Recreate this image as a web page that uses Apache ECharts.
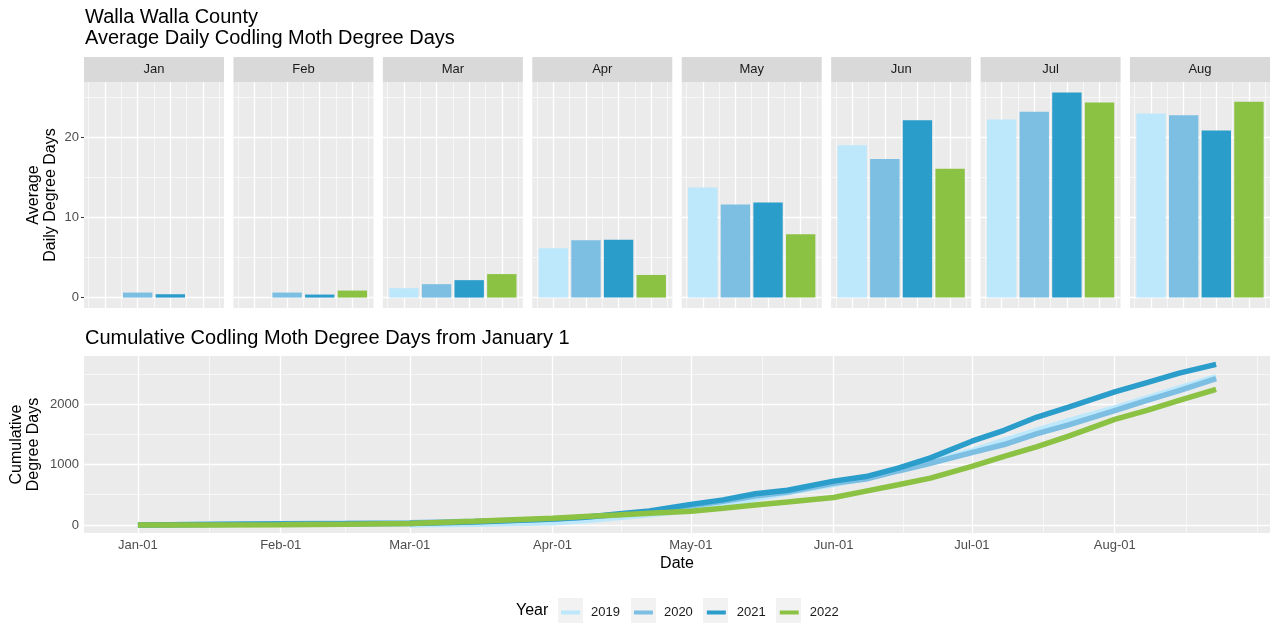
<!DOCTYPE html>
<html><head><meta charset="utf-8">
<script src="https://cdn.jsdelivr.net/npm/echarts@6.0.0/dist/echarts.min.js"></script>
<style>html,body{margin:0;padding:0;background:#fff}#c{width:1280px;height:640px}</style>
</head><body><div id="c"></div>
<script>
// ---------------- DATA ----------------
const months = ['Jan', 'Feb', 'Mar', 'Apr', 'May', 'Jun', 'Jul', 'Aug'];
const years = ['2019', '2020', '2021', '2022'];
const yearColors = ['#BDE8FB', '#7DBFE3', '#2A9DCB', '#8CC244'];

// Average daily degree days per month (Jan..Aug)
const avg2019 = [null, null, 1.18, 6.16, 13.77, 19.04, 22.26, 23.01];
const avg2020 = [0.63, 0.63, 1.68, 7.17, 11.63, 17.32, 23.22, 22.80];
const avg2021 = [0.42, 0.38, 2.18, 7.23, 11.88, 22.18, 25.65, 20.88];
const avg2022 = [null, 0.88, 2.94, 2.83, 7.91, 16.11, 24.39, 24.48];

// Cumulative degree days, sampled dates (MM-DD)
const sampleDates = ['01-01','01-15','02-01','02-15','03-01','03-15','04-01','04-08','04-15','04-22',
  '05-01','05-08','05-15','05-22','06-01','06-08','06-15','06-22','07-01','07-08','07-15','07-22',
  '08-01','08-08','08-15','08-23'];
const cum2019 = [null, null, null, null, 0, 12, 37, 70, 118, 168, 240, 330, 430, 530, 670, 770, 905, 1050, 1230, 1400, 1565, 1725, 1935, 2100, 2265, 2451];
const cum2020 = [0, 9, 19, 27, 36, 60, 95, 128, 170, 215, 315, 390, 480, 545, 690, 760, 893, 1020, 1195, 1330, 1505, 1655, 1890, 2060, 2220, 2419];
const cum2021 = [0, 6, 14, 19, 25, 48, 100, 128, 180, 231, 340, 415, 515, 575, 725, 800, 940, 1110, 1385, 1565, 1780, 1950, 2200, 2355, 2510, 2656];
const cum2022 = [0, 0, 2, 10, 26, 60, 110, 140, 165, 195, 225, 275, 330, 380, 455, 560, 665, 775, 970, 1135, 1290, 1470, 1745, 1895, 2060, 2243];

// Tick labels
const dateTickLabels = ['Jan-01', 'Feb-01', 'Mar-01', 'Apr-01', 'May-01', 'Jun-01', 'Jul-01', 'Aug-01'];
const barYTicks = [0, 10, 20];
const barYMinor = [5, 15, 25];
const cumYTicks = [0, 1000, 2000];
const cumYMinor = [500, 1500, 2500];

// ---------------- HELPERS ----------------
const avgByYear = [avg2019, avg2020, avg2021, avg2022];
const cumByYear = [cum2019, cum2020, cum2021, cum2022];
function dayOfYear(mmdd) {
  const p = mmdd.split('-').map(Number);
  return Math.round((Date.UTC(2021, p[0] - 1, p[1]) - Date.UTC(2021, 0, 1)) / 86400000);
}
function labelToDay(lbl) {
  const m = months.indexOf(lbl.slice(0, 3)) + 1;
  return dayOfYear(String(m).padStart(2, '0') + '-' + lbl.slice(4));
}
const sampleDays = sampleDates.map(dayOfYear);
const tickDays = dateTickLabels.map(labelToDay);
// ggplot-style minor breaks: midpoints between month breaks, plus one extended break
const minorDays = [];
for (let i = 0; i < tickDays.length - 1; i++) minorDays.push((tickDays[i] + tickDays[i + 1]) / 2);
const extDay = tickDays[tickDays.length - 1] + (tickDays[1] - tickDays[0]);
minorDays.push((tickDays[tickDays.length - 1] + extDay) / 2, extDay);
const yearNums = years.map(Number);
const yearMinor = [yearNums[0] - 0.5].concat(yearNums.map(y => y + 0.5));

// ---------------- LAYOUT ----------------
const FONT = '"Liberation Sans", Arial, sans-serif';
const PANEL_L = 84, PANEL_R = 1270;
const FACET_W = 140, FACET_TOP = 82, FACET_H = 226, STRIP_H = 25;
const FACET_STRIDE = (PANEL_R - PANEL_L - FACET_W) / (months.length - 1);
const CUM_TOP = 356, CUM_H = 177;
const BAR_X_MIN = yearNums[0] - 0.45 - 0.195, BAR_X_MAX = yearNums[3] + 0.45 + 0.195;
const BAR_Y_MIN = -1.3, BAR_Y_MAX = 26.95;
const CUM_X_MIN = -11.7, CUM_X_MAX = 245.7;
const CUM_Y_MIN = -133, CUM_Y_MAX = 2794;
const barPx = FACET_W / (BAR_X_MAX - BAR_X_MIN) * 0.9;

const MAJOR = { color: '#FFFFFF', width: 1.3, type: 'solid' };
const MINOR = { color: '#FFFFFF', width: 0.6, type: 'solid' };
function gridMarkLine(xMaj, xMin, yMaj, yMin) {
  const data = [];
  xMin.forEach(v => data.push({ xAxis: v, lineStyle: MINOR }));
  yMin.forEach(v => data.push({ yAxis: v, lineStyle: MINOR }));
  xMaj.forEach(v => data.push({ xAxis: v, lineStyle: MAJOR }));
  yMaj.forEach(v => data.push({ yAxis: v, lineStyle: MAJOR }));
  return { silent: true, symbol: 'none', z: 1, animation: false, label: { show: false },
           emphasis: { disabled: true }, data: data };
}
const tickStyle = { show: true, length: 3, lineStyle: { color: '#333333', width: 1 } };
const labelStyle = { color: '#4D4D4D', fontSize: 13, fontFamily: FONT };

const grids = [], xAxes = [], yAxes = [], series = [], graphics = [];
months.forEach((m, i) => {
  const left = PANEL_L + i * FACET_STRIDE;
  grids.push({ left: left, top: FACET_TOP, width: FACET_W, height: FACET_H, show: true,
    backgroundColor: '#EBEBEB', borderWidth: 0, containLabel: false, outerBoundsMode: 'none' });
  xAxes.push({ type: 'value', gridIndex: i, min: BAR_X_MIN, max: BAR_X_MAX,
    axisLine: { show: false }, splitLine: { show: false },
    axisTick: Object.assign({ customValues: yearNums }, tickStyle),
    axisLabel: { show: false } });
  yAxes.push({ type: 'value', gridIndex: i, min: BAR_Y_MIN, max: BAR_Y_MAX,
    axisLine: { show: false }, splitLine: { show: false },
    axisTick: Object.assign({ customValues: barYTicks }, tickStyle, { show: i === 0 }),
    axisLabel: Object.assign({ show: i === 0, customValues: barYTicks, margin: 5,
      formatter: v => String(v) }, labelStyle),
    name: i === 0 ? 'Average\nDaily Degree Days' : '',
    nameLocation: 'middle', nameRotate: 90, nameGap: 25,
    nameTextStyle: { fontSize: 16, lineHeight: 17, color: '#000', fontFamily: FONT } });
  const data = [];
  years.forEach((y, k) => {
    const v = avgByYear[k][i];
    if (v !== null) data.push({ value: [yearNums[k], v], itemStyle: { color: yearColors[k] } });
  });
  series.push({ type: 'bar', name: 'bars-' + m, xAxisIndex: i, yAxisIndex: i, barWidth: barPx,
    data: data, z: 2, silent: true,
    markLine: gridMarkLine(yearNums, yearMinor, barYTicks, barYMinor) });
  graphics.push({ type: 'rect', left: left, top: FACET_TOP - STRIP_H,
    shape: { width: FACET_W, height: STRIP_H }, style: { fill: '#D9D9D9' }, silent: true });
  graphics.push({ type: 'text', x: left + FACET_W / 2, y: FACET_TOP - STRIP_H / 2,
    style: { text: m, fill: '#1A1A1A', font: '13px ' + FONT, align: 'center', verticalAlign: 'middle' }, silent: true });
});

const ci = months.length;
grids.push({ left: PANEL_L, top: CUM_TOP, width: PANEL_R - PANEL_L, height: CUM_H, show: true,
  backgroundColor: '#EBEBEB', borderWidth: 0, containLabel: false, outerBoundsMode: 'none' });
xAxes.push({ type: 'value', gridIndex: ci, min: CUM_X_MIN, max: CUM_X_MAX,
  axisLine: { show: false }, splitLine: { show: false },
  axisTick: Object.assign({ customValues: tickDays }, tickStyle),
  axisLabel: Object.assign({ customValues: tickDays, margin: 6,
    formatter: v => { const k = tickDays.indexOf(v); return k >= 0 ? dateTickLabels[k] : ''; } }, labelStyle),
  name: 'Date', nameLocation: 'middle', nameGap: 23,
  nameTextStyle: { fontSize: 16, color: '#000', fontFamily: FONT } });
yAxes.push({ type: 'value', gridIndex: ci, min: CUM_Y_MIN, max: CUM_Y_MAX,
  axisLine: { show: false }, splitLine: { show: false },
  axisTick: Object.assign({ customValues: cumYTicks }, tickStyle),
  axisLabel: Object.assign({ customValues: cumYTicks, margin: 5, formatter: v => String(v) }, labelStyle),
  name: 'Cumulative\nDegree Days', nameLocation: 'middle', nameRotate: 90, nameGap: 42,
  nameMoveOverlap: false,
  nameTextStyle: { fontSize: 16, lineHeight: 17, color: '#000', fontFamily: FONT } });
years.forEach((y, k) => {
  const s = { type: 'line', name: y, xAxisIndex: ci, yAxisIndex: ci, showSymbol: false, symbol: 'none',
    silent: true, z: 2 + k * 0.01,
    itemStyle: { color: yearColors[k] }, lineStyle: { color: yearColors[k], width: 5.5 },
    data: sampleDays.map((d, j) => [d, cumByYear[k][j]]).filter(p => p[1] !== null) };
  if (k === 0) s.markLine = gridMarkLine(tickDays, minorDays, cumYTicks, cumYMinor);
  series.push(s);
});

// legend decorations
const LEG_BOX_X = [558, 631, 703, 776];
LEG_BOX_X.forEach(x => graphics.push({ type: 'rect', left: x, top: 598, z: -1,
  shape: { width: 25, height: 25 }, style: { fill: '#F2F2F2' }, silent: true }));
graphics.push({ type: 'text', x: 516, y: 611, style: { text: 'Year', fill: '#000',
  font: '16px ' + FONT, align: 'left', verticalAlign: 'middle' }, silent: true });

const option = {
  animation: false,
  backgroundColor: '#FFFFFF',
  textStyle: { fontFamily: FONT },
  title: [
    { text: 'Walla Walla County\nAverage Daily Codling Moth Degree Days', left: 80, top: 2,
      textStyle: { fontSize: 20, fontWeight: 'normal', color: '#000', lineHeight: 21, fontFamily: FONT } },
    { text: 'Cumulative Codling Moth Degree Days from January 1', left: 80, top: 323,
      textStyle: { fontSize: 20, fontWeight: 'normal', color: '#000', fontFamily: FONT } }
  ],
  legend: { data: years, left: 561, top: 606, padding: 0, icon: 'rect', itemWidth: 19, itemHeight: 4, itemGap: 14,
    selectedMode: false, z: 10,
    textStyle: { fontSize: 13, color: '#1A1A1A', fontFamily: FONT, padding: [0, 0, 0, 6] } },
  grid: grids, xAxis: xAxes, yAxis: yAxes, series: series, graphic: graphics
};
const chart = echarts.init(document.getElementById('c'));
chart.setOption(option);
</script></body></html>
